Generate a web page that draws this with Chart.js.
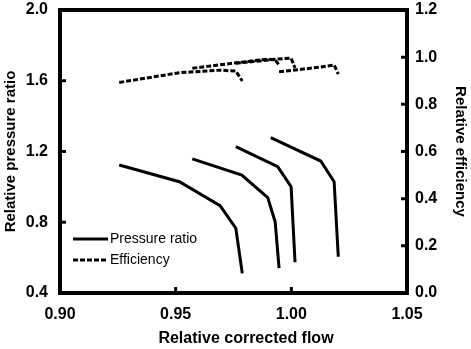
<!DOCTYPE html>
<html>
<head>
<meta charset="utf-8">
<script src="https://cdn.jsdelivr.net/npm/chart.js@4"></script>
<style>
  body { margin: 0; background: #fff; }
  #chart { display: block; }
</style>
</head>
<body>
<canvas id="chart" width="471" height="349"></canvas>
<script>
// speed lines: relative corrected flow vs pressure ratio
const flow1 = [0.9256, 0.9516, 0.9692, 0.9760, 0.9788];
const pr1   = [1.124, 1.029, 0.894, 0.766, 0.511];
const flow2 = [0.9572, 0.9786, 0.9898, 0.9930, 0.9947];
const pr2   = [1.158, 1.067, 0.939, 0.803, 0.540];
const flow3 = [0.9760, 0.9941, 0.9999, 1.0016];
const pr3   = [1.227, 1.114, 1.001, 0.574];
const flow4 = [0.9911, 1.0127, 1.0185, 1.0203];
const pr4   = [1.278, 1.146, 1.029, 0.605];

// efficiency lines
const effFlow1 = [0.9256, 0.9516, 0.9692, 0.9760, 0.9788];
const eff1     = [0.893, 0.934, 0.945, 0.941, 0.899];
const effFlow2 = [0.9572, 0.9786, 0.9898, 0.9930, 0.9947];
const eff2     = [0.953, 0.979, 0.992, 0.988, 0.967];
const effFlow3 = [0.9760, 0.9941, 0.9999, 1.0016];
const eff3     = [0.974, 0.992, 0.996, 0.954];
const effFlow4 = [0.9947, 1.0127, 1.0185, 1.0203];
const eff4     = [0.938, 0.958, 0.967, 0.928];

const legendLabels = ['Pressure ratio', 'Efficiency'];
const xTitle = 'Relative corrected flow';

const pts = (xs, ys) => xs.map((x, i) => ({ x: x, y: ys[i] }));

const prStyle = { borderColor: '#000', borderWidth: 3, pointRadius: 0, showLine: true, yAxisID: 'y' };
const effStyle = { borderColor: '#000', borderWidth: 3, borderDash: [5, 2], pointRadius: 0, showLine: true, yAxisID: 'y1' };

const datasets = [
  { ...prStyle, data: pts(flow1, pr1) },
  { ...prStyle, data: pts(flow2, pr2) },
  { ...prStyle, data: pts(flow3, pr3) },
  { ...prStyle, data: pts(flow4, pr4) },
  { ...effStyle, data: pts(effFlow1, eff1) },
  { ...effStyle, data: pts(effFlow2, eff2) },
  { ...effStyle, data: pts(effFlow3, eff3) },
  { ...effStyle, data: pts(effFlow4, eff4) }
];

const font = 'Liberation Sans, Arial, sans-serif';

// frame, inward ticks, x title and the little legend
const frame = {
  id: 'frame',
  afterDraw(chart) {
    const { ctx, chartArea: a, scales } = chart;
    ctx.save();
    ctx.strokeStyle = '#000';
    ctx.lineWidth = 4;
    ctx.setLineDash([]);
    ctx.strokeRect(a.left, a.top, a.right - a.left, a.bottom - a.top);

    const tick = 6;
    ctx.lineWidth = 3;
    ctx.beginPath();
    scales.x.ticks.forEach(t => {
      if (t.value <= scales.x.min || t.value >= scales.x.max) return;
      const px = scales.x.getPixelForValue(t.value);
      ctx.moveTo(px, a.bottom); ctx.lineTo(px, a.bottom - tick);
    });
    scales.y.ticks.forEach(t => {
      if (t.value <= scales.y.min || t.value >= scales.y.max) return;
      const py = scales.y.getPixelForValue(t.value);
      ctx.moveTo(a.left, py); ctx.lineTo(a.left + tick, py);
    });
    scales.y1.ticks.forEach(t => {
      if (t.value <= scales.y1.min || t.value >= scales.y1.max) return;
      const py = scales.y1.getPixelForValue(t.value);
      ctx.moveTo(a.right, py); ctx.lineTo(a.right - tick, py);
    });
    ctx.stroke();

    ctx.fillStyle = '#000';
    ctx.font = 'bold 16px ' + font;
    ctx.textAlign = 'center';
    ctx.textBaseline = 'middle';
    ctx.fillText(xTitle, 246, 339);

    // legend
    const lx = a.left + 13, lw = 35;
    const rows = [a.top + 229, a.top + 250];
    ctx.font = '14px ' + font;
    ctx.textAlign = 'left';
    legendLabels.forEach((label, i) => {
      const ds = i === 0 ? prStyle : effStyle;
      ctx.lineWidth = ds.borderWidth;
      ctx.setLineDash(ds.borderDash || []);
      ctx.beginPath();
      ctx.moveTo(lx, rows[i]); ctx.lineTo(lx + lw, rows[i]);
      ctx.stroke();
      ctx.fillText(label, lx + lw + 2, rows[i]);
    });
    ctx.restore();
  }
};

const vFit = w => s => { s.width = w; s.paddingTop = 0; s.paddingBottom = 0; };

new Chart(document.getElementById('chart'), {
  type: 'scatter',
  data: { datasets },
  plugins: [frame],
  options: {
    responsive: false,
    animation: false,
    layout: { padding: { top: 10, left: 0, right: 0, bottom: 0 } },
    plugins: { legend: { display: false }, tooltip: { enabled: false } },
    scales: {
      x: {
        type: 'linear', min: 0.9, max: 1.05,
        grid: { display: false, drawTicks: false },
        border: { display: false },
        ticks: { stepSize: 0.05, padding: 12, color: '#000',
          font: { family: font, size: 16, weight: 'bold' },
          callback: v => v.toFixed(2) },
        afterFit: s => { s.height = 56; s.paddingLeft = 0; s.paddingRight = 0; }
      },
      y: {
        position: 'left', min: 0.4, max: 2.0,
        grid: { display: false, drawTicks: false },
        border: { display: false },
        ticks: { stepSize: 0.4, padding: 12, color: '#000',
          font: { family: font, size: 16, weight: 'bold' },
          callback: v => v.toFixed(1) },
        title: { display: true, text: 'Relative pressure ratio', color: '#000',
          font: { family: font, size: 15, weight: 'bold' }, padding: { top: 2, bottom: 0 } },
        afterFit: vFit(60)
      },
      y1: {
        position: 'right', min: 0, max: 1.2,
        grid: { display: false, drawTicks: false },
        border: { display: false },
        ticks: { stepSize: 0.2, padding: 8, color: '#000',
          font: { family: font, size: 16, weight: 'bold' },
          callback: v => v.toFixed(1) },
        title: { display: true, text: 'Relative efficiency', color: '#000',
          font: { family: font, size: 15, weight: 'bold' }, padding: { top: 2, bottom: 0 } },
        afterFit: vFit(64)
      }
    }
  }
});
</script>
</body>
</html>
